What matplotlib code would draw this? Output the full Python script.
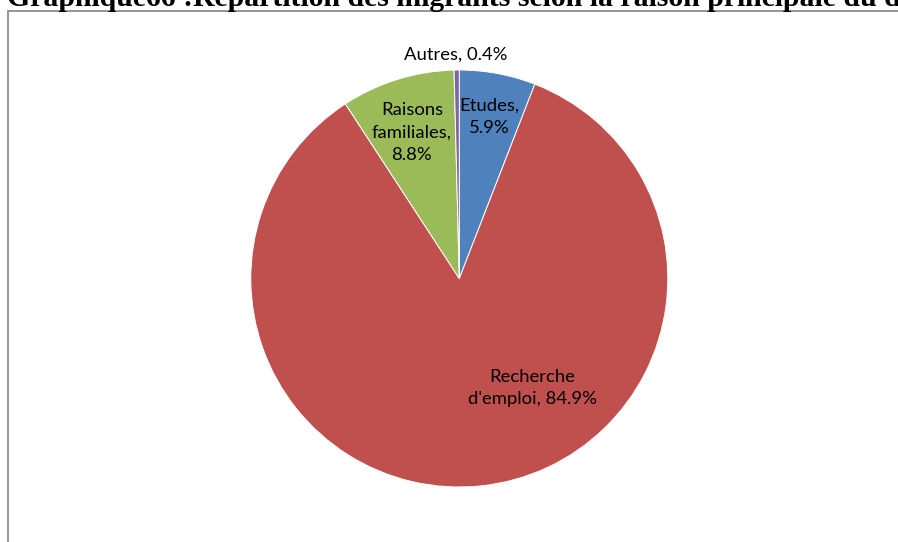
"""
Pie chart: Répartition des migrants selon la raison principale du départ.
Output: out.png (898x542)
"""
import matplotlib
matplotlib.use('Agg')
import matplotlib.pyplot as plt
from matplotlib.patches import Rectangle

# data
categories = ['Etudes', "Recherche d'emploi", 'Raisons familiales', 'Autres']
shares = [5.9, 84.9, 8.8, 0.4]
label_texts = ['Etudes,\n5.9%', "Recherche\nd'emploi, 84.9%",
               'Raisons\nfamiliales,\n8.8%', 'Autres, 0.4%']
colors = ['#4F81BD', '#C0504D', '#9BBB59', '#8064A2']

# label anchors in pie-radius units (hand placed, like Excel's best fit)
label_pos = [(0.145, 0.775), (0.349, -0.525), (-0.227, 0.700), (-0.016, 1.075)]

W, H = 898, 542
fig = plt.figure(figsize=(W / 100, H / 100), dpi=100)
fig.patch.set_facecolor('white')

# chart frame (cut off at right and bottom)
frame = Rectangle((8 / W, -0.1), 1.2, 1.1 - 11 / H, transform=fig.transFigure,
                  facecolor='none', edgecolor='#8c8c8c', linewidth=1.3)
fig.add_artist(frame)

# title, mostly clipped at the top edge
fig.text(7 / W, 1 - 6 / H,
         'Graphique66 :Répartition des migrants selon la raison principale du départ',
         ha='left', va='baseline', fontsize=21.4, fontweight='bold',
         family='Liberation Serif', color='black')

cx, cy, r = 459.3, 278.5, 208.5
ax = fig.add_axes([(cx - r) / W, (H - cy - r) / H, 2 * r / W, 2 * r / H])
ax.pie(shares, colors=colors, startangle=90, counterclock=False,
       wedgeprops=dict(edgecolor='white', linewidth=0.7))
ax.set_xlim(-1, 1)
ax.set_ylim(-1, 1)
ax.set_aspect('equal')
ax.axis('off')

for txt, (lx, ly) in zip(label_texts, label_pos):
    ax.text(lx, ly, txt, ha='center', va='center', fontsize=13.3,
            family='Lato', color='black', linespacing=1.5)

fig.savefig('out.png', dpi=100, facecolor='white')
